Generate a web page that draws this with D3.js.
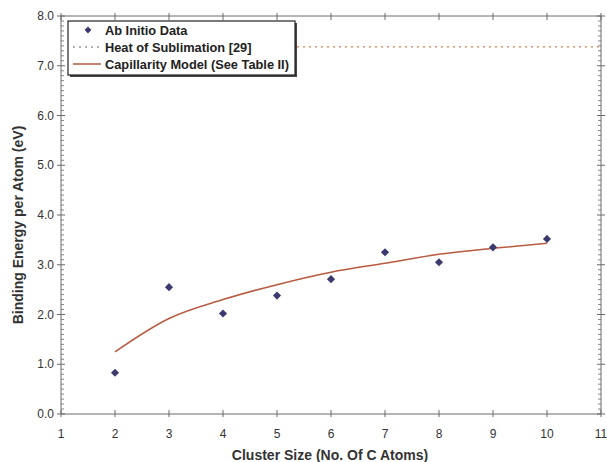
<!DOCTYPE html>
<html><head><meta charset="utf-8">
<script src="https://cdn.jsdelivr.net/npm/d3@7"></script>
<style>body{margin:0;background:#fff;}text{font-family:Arial,"Liberation Sans",sans-serif;}</style>
</head><body><svg id="c" width="607" height="462"></svg>
<script>
const clusterSizes = [2,3,4,5,6,7,8,9,10];
const abInitio = [0.83,2.55,2.02,2.38,2.71,3.25,3.05,3.35,3.52];
const capillary = [1.25,1.92,2.30,2.60,2.85,3.03,3.21,3.33,3.43];
const heatOfSublimation = 7.38;
const xTicks = [1,2,3,4,5,6,7,8,9,10,11];
const yTicks = [0,1,2,3,4,5,6,7,8];
const legendLabels = ["Ab Initio Data","Heat of Sublimation [29]","Capillarity Model (See Table II)"];

const svg = d3.select("#c");
const L=61, R=601, T=16, B=414;
const x = d3.scaleLinear().domain([1,11]).range([L,R]);
const y = d3.scaleLinear().domain([0,8]).range([B,T]);
const axisCol="#6a6a6a", txtCol="#333";

const g = svg.append("g");
g.append("line").attr("x1",L).attr("x2",R).attr("y1",B).attr("y2",B).attr("stroke",axisCol);
g.append("line").attr("x1",L).attr("x2",R).attr("y1",T).attr("y2",T).attr("stroke",axisCol);
g.append("line").attr("x1",L).attr("x2",L).attr("y1",T).attr("y2",B).attr("stroke",axisCol);
g.append("line").attr("x1",R).attr("x2",R).attr("y1",T).attr("y2",B).attr("stroke",axisCol);

xTicks.forEach(v=>{
  g.append("line").attr("x1",x(v)).attr("x2",x(v)).attr("y1",B-4).attr("y2",B+3).attr("stroke",axisCol);
  g.append("line").attr("x1",x(v)).attr("x2",x(v)).attr("y1",T-3).attr("y2",T+4).attr("stroke",axisCol);
  g.append("text").attr("x",x(v)).attr("y",B+24).attr("text-anchor","middle").attr("font-size",12).attr("fill",txtCol).text(v);
});
const minor = d3.range(0,80).map(i=>i/10);
minor.forEach(v=>{
  if (Math.abs(v-Math.round(v))<1e-6) return;
  g.append("line").attr("x1",L).attr("x2",L+3).attr("y1",y(v)).attr("y2",y(v)).attr("stroke",axisCol).attr("stroke-width",0.8);
  g.append("line").attr("x1",R-3).attr("x2",R).attr("y1",y(v)).attr("y2",y(v)).attr("stroke",axisCol).attr("stroke-width",0.8);
});
yTicks.forEach(v=>{
  g.append("line").attr("x1",L-4).attr("x2",L+4).attr("y1",y(v)).attr("y2",y(v)).attr("stroke",axisCol);
  g.append("line").attr("x1",R-4).attr("x2",R+4).attr("y1",y(v)).attr("y2",y(v)).attr("stroke",axisCol);
  g.append("text").attr("x",L-7).attr("y",y(v)+4).attr("text-anchor","end").attr("font-size",12).attr("fill",txtCol).text(v.toFixed(1));
});

svg.append("text").attr("x",330).attr("y",460).attr("text-anchor","middle").attr("font-size",14).attr("font-weight","bold").attr("fill",txtCol).text("Cluster Size (No. Of C Atoms)");
svg.append("text").attr("transform",`translate(23,225) rotate(-90)`).attr("text-anchor","middle").attr("font-size",14).attr("font-weight","bold").attr("fill",txtCol).text("Binding Energy per Atom (eV)");

svg.append("line").attr("x1",297).attr("x2",R).attr("y1",y(heatOfSublimation)).attr("y2",y(heatOfSublimation))
  .attr("stroke","#e07a50").attr("stroke-width",1.3).attr("stroke-dasharray","2,4");

const line = d3.line().x((d,i)=>x(clusterSizes[i])).y(d=>y(d)).curve(d3.curveMonotoneX);
svg.append("path").datum(capillary).attr("d",line).attr("fill","none").attr("stroke","#b85a40").attr("stroke-width",1.5);

const diamond = d3.symbol().type(d3.symbolDiamond2).size(42);
svg.selectAll(".pt").data(abInitio).enter().append("path")
  .attr("transform",(d,i)=>`translate(${x(clusterSizes[i])},${y(d)})`)
  .attr("d",diamond).attr("fill","#3a3a6e");

const lg = svg.append("g");
lg.append("rect").attr("x",70).attr("y",23).attr("width",227).attr("height",54).attr("fill","#444");
lg.append("rect").attr("x",68).attr("y",21).attr("width",227).attr("height",54).attr("fill","#fff").attr("stroke","#222").attr("stroke-width",1.2);
const rows=[30,47,64];
lg.append("path").attr("transform",`translate(88,${rows[0]})`).attr("d",d3.symbol().type(d3.symbolDiamond2).size(30)).attr("fill","#3a3a6e");
lg.append("line").attr("x1",73).attr("x2",101).attr("y1",rows[1]).attr("y2",rows[1]).attr("stroke","#999").attr("stroke-width",1.3).attr("stroke-dasharray","2,4");
lg.append("line").attr("x1",73).attr("x2",101).attr("y1",rows[2]).attr("y2",rows[2]).attr("stroke","#b85a40").attr("stroke-width",1.5);
legendLabels.forEach((t,i)=>{
  lg.append("text").attr("x",105).attr("y",rows[i]+4.5).attr("font-size",12.8).attr("font-weight","bold").attr("fill","#222").text(t);
});
</script></body></html>
